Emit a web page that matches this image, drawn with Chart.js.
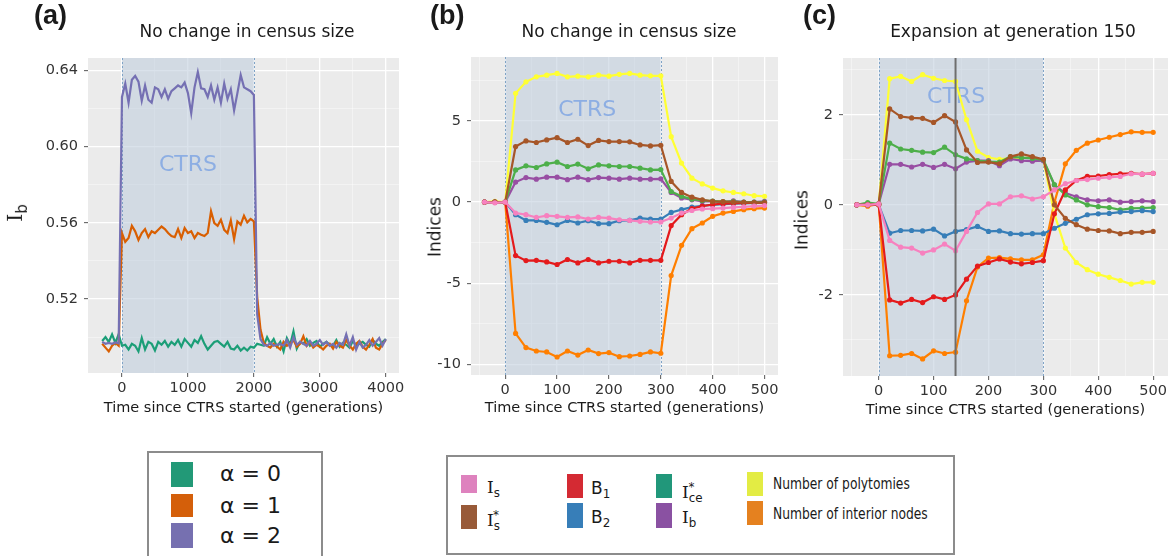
<!DOCTYPE html>
<html>
<head>
<meta charset="utf-8">
<script src="https://cdn.jsdelivr.net/npm/chart.js@4.4.0/dist/chart.umd.min.js"></script>
<style>
  body { margin: 0; background: #fff; font-family: 'DejaVu Sans', sans-serif; color: #1a1a1a; }
  #wrap { position: relative; width: 1169px; height: 556px; overflow: hidden; }
  canvas { position: absolute; top: 0; }
  .tag { position: absolute; font: bold 27px 'Liberation Sans', Arial, sans-serif; line-height: 27px; }
  .title { position: absolute; font-size: 17px; line-height: 17px; white-space: nowrap; transform: translateX(-50%); }
  .ylab { position: absolute; font-size: 17px; line-height: 17px; white-space: nowrap; transform: translate(-50%, -50%) rotate(-90deg); }
  .serif { font-family: 'DejaVu Serif', serif; }
  .box { position: absolute; border: 2px solid #8c8c8c; background: #fff; }
  .sw { position: absolute; }
  .lt { position: absolute; white-space: nowrap; }
  .lt sub, .lt sup { font-size: 70%; }
  .cond { transform: scaleX(0.82); transform-origin: left center; }
</style>
</head>
<body>
<div id="wrap">
  <canvas id="chartA" width="410" height="420" style="left:0px"></canvas>
  <canvas id="chartB" width="390" height="420" style="left:400px"></canvas>
  <canvas id="chartC" width="389" height="420" style="left:780px"></canvas>

  <div class="tag" style="left:34px; top:2px">(a)</div>
  <div class="tag" style="left:430px; top:2px">(b)</div>
  <div class="tag" style="left:803px; top:2px">(c)</div>

  <div class="title" style="left:247px; top:23px">No change in census size</div>
  <div class="title" style="left:629px; top:23px">No change in census size</div>
  <div class="title" style="left:1013px; top:23px">Expansion at generation 150</div>

  <div class="ylab" style="left:19px; top:213px; font-size:21px; line-height:21px"><span class="serif">I</span><sub style="font-size:15px">b</sub></div>
  <div class="ylab" style="left:435px; top:227px">Indices</div>
  <div class="ylab" style="left:802px; top:220px">Indices</div>

  <!-- legend for panel (a) -->
  <div class="box" style="left:147px; top:451px; width:172px; height:120px"></div>
  <div class="sw" style="left:171px; top:462px; width:22px; height:25px; background:#229977"></div>
  <div class="sw" style="left:171px; top:494px; width:22px; height:23px; background:#D45F0A"></div>
  <div class="sw" style="left:171px; top:523px; width:22px; height:25px; background:#7670B0"></div>
  <div class="lt" style="left:220px; top:463px; font-size:22px; line-height:22px">α = 0</div>
  <div class="lt" style="left:220px; top:495px; font-size:22px; line-height:22px">α = 1</div>
  <div class="lt" style="left:220px; top:525px; font-size:22px; line-height:22px">α = 2</div>

  <!-- legend for panels (b) and (c) -->
  <div class="box" style="left:446px; top:455px; width:505px; height:96px"></div>
  <div class="sw" style="left:461px; top:475px; width:16px; height:18px; background:#DE82BE"></div>
  <div class="sw" style="left:461px; top:505px; width:16px; height:24px; background:#985A38"></div>
  <div class="sw" style="left:567px; top:474px; width:16px; height:24px; background:#D42A33"></div>
  <div class="sw" style="left:567px; top:503px; width:16px; height:25px; background:#377EB8"></div>
  <div class="sw" style="left:656px; top:474px; width:16px; height:24px; background:#21977A"></div>
  <div class="sw" style="left:656px; top:503px; width:16px; height:25px; background:#8A51A2"></div>
  <div class="sw" style="left:747px; top:472px; width:16px; height:24px; background:#E3EC44"></div>
  <div class="sw" style="left:747px; top:501px; width:16px; height:24px; background:#E5811F"></div>
  <div class="lt" style="left:487px; top:479px; font-size:17px; line-height:17px"><span class="serif">I</span><sub>s</sub></div>
  <div class="lt" style="left:487px; top:507px; font-size:17px; line-height:17px"><span class="serif">I</span><sub>s</sub><sup style="margin-left:-7px">*</sup></div>
  <div class="lt" style="left:591px; top:480px; font-size:17px; line-height:17px">B<sub>1</sub></div>
  <div class="lt" style="left:591px; top:509px; font-size:17px; line-height:17px">B<sub>2</sub></div>
  <div class="lt" style="left:682px; top:479px; font-size:17px; line-height:17px"><span class="serif">I</span><sub>ce</sub><sup style="margin-left:-14px">*</sup></div>
  <div class="lt" style="left:682px; top:509px; font-size:17px; line-height:17px"><span class="serif">I</span><sub>b</sub></div>
  <div class="lt cond" style="left:773px; top:477px; font-size:15px; line-height:15px">Number of polytomies</div>
  <div class="lt cond" style="left:773px; top:507px; font-size:15px; line-height:15px">Number of interior nodes</div>
</div>

<script>
// panel (a): I_b through time for three alpha values, every 50 generations
var timeA = [];
for (var t = -300; t <= 4000; t += 50) timeA.push(t);

var alpha0 = [0.498, 0.500, 0.4975, 0.5015, 0.497, 0.5015,
  0.4955, 0.496, 0.4935, 0.4965, 0.4955, 0.4925, 0.4995, 0.4935, 0.4975, 0.4965,
  0.4930, 0.4975, 0.4960, 0.4980, 0.4950, 0.4975, 0.4960, 0.4985, 0.4950, 0.4990,
  0.4970, 0.4950, 0.4985, 0.4970, 0.5005, 0.4965, 0.4935, 0.4955, 0.4975, 0.4980,
  0.4965, 0.4950, 0.4975, 0.4940, 0.4935, 0.4955, 0.4930, 0.4945, 0.4930, 0.4950, 0.4945,
  0.4965, 0.4960, 0.4955, 0.5000, 0.4965, 0.4990, 0.4950, 0.4975, 0.4925, 0.4995,
  0.4960, 0.5030, 0.4940, 0.4975, 0.4965, 0.4990, 0.4955, 0.4970, 0.4980, 0.4950,
  0.4965, 0.4975, 0.4960, 0.4955, 0.4985, 0.4950, 0.4970, 0.4960, 0.4945, 0.4980,
  0.4955, 0.4965, 0.4975, 0.4960, 0.4950, 0.4985, 0.4965, 0.4955, 0.4975, 0.4990];

var alpha1 = [0.4965, 0.4945, 0.4925, 0.4955, 0.497, 0.4955,
  0.5546, 0.550, 0.552, 0.5584, 0.5555, 0.551, 0.5546, 0.5567, 0.5525, 0.5555,
  0.5546, 0.5563, 0.558, 0.5567, 0.5546, 0.553, 0.5525, 0.5567, 0.552, 0.5572,
  0.5546, 0.5555, 0.552, 0.5546, 0.5537, 0.553, 0.5546, 0.566, 0.5598, 0.5584,
  0.5616, 0.5563, 0.5546, 0.5612, 0.5514, 0.5607, 0.559, 0.5637, 0.5602, 0.562, 0.5607,
  0.521, 0.504, 0.497, 0.4955, 0.4945, 0.4965, 0.4950, 0.4935, 0.4975, 0.4955,
  0.4965, 0.4985, 0.4950, 0.4965, 0.5005, 0.4955, 0.4975, 0.4945, 0.4960, 0.4950,
  0.4935, 0.4955, 0.4965, 0.4940, 0.4975, 0.4955, 0.4945, 0.4985, 0.4955, 0.4935,
  0.4965, 0.4980, 0.4950, 0.4935, 0.4960, 0.4990, 0.4945, 0.4935, 0.4965, 0.4985];

var alpha2 = [0.4975, 0.4965, 0.497, 0.4965, 0.4972, 0.4968,
  0.626, 0.633, 0.623, 0.635, 0.637, 0.634, 0.624, 0.632, 0.6245, 0.623,
  0.631, 0.630, 0.626, 0.630, 0.625, 0.629, 0.6305, 0.632, 0.631, 0.6335,
  0.628, 0.6175, 0.631, 0.639, 0.6305, 0.630, 0.626, 0.632, 0.6245, 0.631,
  0.623, 0.633, 0.625, 0.630, 0.619, 0.628, 0.6375, 0.631, 0.630, 0.629, 0.627,
  0.512, 0.499, 0.496, 0.4955, 0.497, 0.4955, 0.496, 0.4965, 0.4955, 0.4985,
  0.4945, 0.500, 0.496, 0.4975, 0.4965, 0.4955, 0.498, 0.4955, 0.4965, 0.4985,
  0.496, 0.4975, 0.4955, 0.4965, 0.4945, 0.497, 0.496, 0.5015, 0.4955, 0.500,
  0.4935, 0.4975, 0.4945, 0.496, 0.4985, 0.4955, 0.4975, 0.4995, 0.4955, 0.499];

// panels (b) and (c): tree indices every 20 generations
var generations = [-40, -20, 0, 20, 40, 60, 80, 100, 120, 140, 160, 180, 200, 220,
  240, 260, 280, 300, 320, 340, 360, 380, 400, 420, 440, 460, 480, 500];

var isB     = [0, -0.05, 0, -0.68, -0.78, -0.95, -0.84, -0.88, -0.95, -0.92, -1.05, -0.95, -0.99, -1.09, -1.13, -1.19, -1.23, -1.23, -0.99, -0.68, -0.52, -0.43, -0.41, -0.37, -0.33, -0.30, -0.25, -0.22];
var isStarB = [0, 0, 0, 3.42, 3.77, 3.67, 3.83, 3.97, 3.67, 3.87, 3.48, 3.80, 3.73, 3.73, 3.71, 3.52, 3.46, 3.50, 1.27, 0.59, 0.30, 0.14, 0.04, 0.02, 0.0, -0.02, -0.04, -0.05];
var b1B     = [0, 0, 0, -3.30, -3.61, -3.59, -3.69, -3.85, -3.54, -3.75, -3.54, -3.75, -3.65, -3.65, -3.75, -3.59, -3.59, -3.59, -1.45, -0.78, -0.40, -0.25, -0.15, -0.10, -0.08, -0.06, -0.05, -0.05];
var b2B     = [0, 0, 0, -0.78, -1.13, -1.13, -1.25, -1.40, -1.13, -1.29, -1.15, -1.33, -1.33, -1.15, -1.13, -0.99, -1.05, -1.05, -0.64, -0.47, -0.31, -0.23, -0.17, -0.13, -0.10, -0.08, -0.06, -0.05];
var iceB    = [0, 0, 0, 1.98, 2.23, 2.13, 2.35, 2.46, 2.19, 2.34, 2.05, 2.29, 2.23, 2.19, 2.19, 2.09, 1.98, 2.00, 0.65, 0.35, 0.18, 0.10, 0.06, 0.03, 0.02, 0, 0, 0];
var ibB     = [0, 0, 0, 1.23, 1.51, 1.41, 1.53, 1.53, 1.38, 1.53, 1.38, 1.51, 1.47, 1.41, 1.47, 1.41, 1.41, 1.43, 0.59, 0.25, 0.14, 0.04, 0.04, 0, 0.08, 0, 0, 0.04];
var polyB   = [0, 0.05, 0, 6.70, 7.41, 7.72, 7.82, 7.93, 7.72, 7.76, 7.72, 7.82, 7.76, 7.87, 7.93, 7.82, 7.78, 7.78, 4.03, 2.40, 1.47, 1.12, 0.86, 0.69, 0.59, 0.51, 0.39, 0.35];
var nodesB  = [0, 0, 0, -8.10, -8.97, -9.18, -9.24, -9.55, -9.18, -9.43, -9.12, -9.34, -9.28, -9.53, -9.49, -9.39, -9.24, -9.32, -4.53, -2.67, -1.64, -1.29, -0.88, -0.68, -0.58, -0.47, -0.41, -0.37];

var isC     = [0, 0, 0.02, -0.79, -0.94, -0.96, -1.07, -1.00, -0.87, -1.02, -0.59, -0.17, 0.02, 0.02, 0.18, 0.20, 0.13, 0.18, 0.33, 0.47, 0.54, 0.56, 0.59, 0.61, 0.63, 0.69, 0.68, 0.70];
var isStarC = [0, 0, 0.02, 2.13, 1.96, 1.93, 1.92, 1.83, 1.98, 1.84, 1.22, 0.94, 0.95, 0.91, 1.07, 1.13, 1.07, 1.01, 0.0, -0.30, -0.44, -0.54, -0.57, -0.58, -0.64, -0.61, -0.61, -0.59];
var b1C     = [0, 0, 0, -2.11, -2.18, -2.10, -2.17, -2.04, -2.10, -2.00, -1.65, -1.36, -1.28, -1.20, -1.27, -1.31, -1.28, -1.24, -0.20, 0.33, 0.54, 0.63, 0.64, 0.67, 0.69, 0.70, 0.68, 0.70];
var b2C     = [0, 0, 0, -0.63, -0.57, -0.57, -0.58, -0.54, -0.69, -0.59, -0.55, -0.48, -0.59, -0.58, -0.64, -0.65, -0.64, -0.64, -0.52, -0.41, -0.32, -0.22, -0.20, -0.19, -0.16, -0.15, -0.13, -0.15];
var iceC    = [0, 0.05, 0.02, 1.37, 1.24, 1.21, 1.17, 1.16, 1.28, 1.11, 1.02, 0.98, 0.96, 0.95, 1.07, 1.05, 1.03, 1.00, 0.45, 0.22, 0.11, 0.0, -0.04, -0.06, -0.11, -0.08, -0.07, -0.06];
var ibC     = [0, 0, 0.02, 0.90, 0.90, 0.84, 0.90, 0.83, 0.90, 0.80, 0.95, 0.98, 0.98, 0.87, 1.02, 0.98, 0.97, 0.98, 0.44, 0.26, 0.18, 0.11, 0.09, 0.11, 0.06, 0.07, 0.09, 0.07];
var polyC   = [0, 0, 0, 2.80, 2.85, 2.74, 2.89, 2.81, 2.76, 2.74, 1.89, 1.19, 1.05, 1.01, 1.04, 1.04, 1.05, 1.00, -0.20, -0.96, -1.28, -1.44, -1.54, -1.61, -1.68, -1.76, -1.72, -1.72];
var nodesC  = [0, -0.03, 0.02, -3.35, -3.34, -3.30, -3.42, -3.24, -3.30, -3.27, -2.13, -1.38, -1.18, -1.17, -1.20, -1.22, -1.22, -1.11, 0.05, 0.91, 1.21, 1.37, 1.44, 1.50, 1.56, 1.62, 1.61, 1.61];

// axis breaks
var xMajorA = [0, 1000, 2000, 3000, 4000];
var xMinorA = [500, 1500, 2500, 3500];
var yMajorA = [0.52, 0.56, 0.60, 0.64];
var yMinorA = [0.50, 0.54, 0.58, 0.62];
var xMajorBC = [0, 100, 200, 300, 400, 500];
var xMinorBC = [-50, 50, 150, 250, 350, 450];
var yMajorB = [-10, -5, 0, 5];
var yMinorB = [-7.5, -2.5, 2.5, 7.5];
var yMajorC = [-2, 0, 2];
var yMinorC = [-3, -1, 1, 3];

Chart.defaults.font.family = "'DejaVu Sans', sans-serif";
Chart.defaults.color = '#333';

var ctrsPlugin = {
    id: 'ctrs',
    beforeDraw: function(chart) {
        var a = chart.chartArea, ctx = chart.ctx;
        ctx.save();
        ctx.fillStyle = '#EBEBEB';
        ctx.fillRect(a.left, a.top, a.right - a.left, a.bottom - a.top);
        ctx.restore();
    },
    beforeDatasetsDraw: function(chart, args, o) {
        var a = chart.chartArea, ctx = chart.ctx;
        var xs = chart.scales.x, ys = chart.scales.y;
        var x0 = xs.getPixelForValue(o.from), x1 = xs.getPixelForValue(o.to);
        ctx.save();
        ctx.fillStyle = 'rgba(195, 208, 222, 0.62)';
        ctx.fillRect(x0, a.top, x1 - x0, a.bottom - a.top);
        ctx.strokeStyle = '#7FA3C6';
        ctx.lineWidth = 1;
        ctx.setLineDash([2, 2]);
        [x0, x1].forEach(function(x) {
            ctx.beginPath();
            ctx.moveTo(Math.round(x) + 0.5, a.top);
            ctx.lineTo(Math.round(x) + 0.5, a.bottom);
            ctx.stroke();
        });
        ctx.setLineDash([]);
        ctx.fillStyle = '#8DAEE3';
        ctx.font = "22px 'DejaVu Sans'";
        ctx.textAlign = 'center';
        ctx.textBaseline = 'middle';
        ctx.fillText('CTRS', xs.getPixelForValue(o.labelAt[0]), ys.getPixelForValue(o.labelAt[1]));
        ctx.restore();
    },
    afterDatasetsDraw: function(chart, args, o) {
        if (o.marker === undefined) return;
        var a = chart.chartArea, ctx = chart.ctx;
        var x = chart.scales.x.getPixelForValue(o.marker);
        ctx.save();
        ctx.strokeStyle = '#6E6E6E';
        ctx.lineWidth = 2;
        ctx.beginPath();
        ctx.moveTo(x, a.top);
        ctx.lineTo(x, a.bottom);
        ctx.stroke();
        ctx.restore();
    }
};

function isMajor(list, c) {
    return c && c.tick && list.indexOf(c.tick.value) >= 0;
}

function axis(opts) {
    var all = opts.major.concat(opts.minor);
    var ax = {
        type: 'linear',
        min: opts.min,
        max: opts.max,
        border: { display: false },
        afterBuildTicks: function(s) {
            s.ticks = all.map(function(v) { return { value: v }; });
        },
        grid: {
            color: function(c) { return isMajor(opts.major, c) ? '#FFFFFF' : 'rgba(255,255,255,0.6)'; },
            lineWidth: function(c) { return isMajor(opts.major, c) ? 1.3 : 0.7; },
            tickColor: function(c) { return isMajor(opts.major, c) ? '#555' : 'rgba(0,0,0,0)'; },
            tickLength: 4,
            tickWidth: 1
        },
        ticks: {
            autoSkip: false,
            maxRotation: 0,
            padding: opts.pad,
            color: '#333',
            font: { size: 14.5 },
            callback: function(v) {
                return opts.major.indexOf(v) >= 0 ? opts.fmt(v) : '';
            }
        },
        afterFit: opts.fit
    };
    if (opts.title) {
        ax.title = {
            display: true,
            text: opts.title,
            color: '#1a1a1a',
            font: { size: 14.5 },
            padding: { top: 0, bottom: opts.titlePad }
        };
    }
    return ax;
}

function lineSet(label, data, xs, color, pts) {
    return {
        label: label,
        data: data.map(function(v, i) { return { x: xs[i], y: v }; }),
        borderColor: color,
        backgroundColor: color,
        borderWidth: 2.2,
        pointRadius: pts ? 2.6 : 0,
        pointBorderWidth: 0,
        tension: 0
    };
}

function baseOptions(pad, scales, band) {
    return {
        responsive: false,
        animation: false,
        devicePixelRatio: 1,
        layout: { padding: pad, autoPadding: false },
        plugins: { legend: { display: false }, tooltip: { enabled: false }, ctrs: band },
        scales: scales
    };
}

function num(v) { return String(v); }

new Chart(document.getElementById('chartA'), {
    type: 'line',
    data: {
        datasets: [
            lineSet('α = 2', alpha2, timeA, '#7570B3', false),
            lineSet('α = 1', alpha1, timeA, '#D95F02', false),
            lineSet('α = 0', alpha0, timeA, '#1B9E77', false)
        ]
    },
    options: baseOptions({ top: 58, right: 11, left: 0, bottom: 0 }, {
        x: axis({ min: -515, max: 4200, major: xMajorA, minor: xMinorA, fmt: num, pad: 3,
            title: 'Time since CTRS started (generations)', titlePad: 3,
            fit: function(s) { s.height = 47; } }),
        y: axis({ min: 0.4812, max: 0.6464, major: yMajorA, minor: yMinorA, pad: 6,
            fmt: function(v) { return v.toFixed(2); },
            fit: function(s) { s.width = 88; } })
    }, { from: 0, to: 2000, labelAt: [1000, 0.590] }),
    plugins: [ctrsPlugin]
});

function indexSets(xs, s) {
    return [
        lineSet('Is', s[0], xs, '#F781BF', true),
        lineSet('Is*', s[1], xs, '#A65628', true),
        lineSet('B1', s[2], xs, '#E41A1C', true),
        lineSet('B2', s[3], xs, '#377EB8', true),
        lineSet('Ice*', s[4], xs, '#4DAF4A', true),
        lineSet('Ib', s[5], xs, '#984EA3', true),
        lineSet('Number of polytomies', s[6], xs, '#FFFF33', true),
        lineSet('Number of interior nodes', s[7], xs, '#FF7F00', true)
    ];
}

new Chart(document.getElementById('chartB'), {
    type: 'line',
    data: { datasets: indexSets(generations, [isB, isStarB, b1B, b2B, iceB, ibB, polyB, nodesB]) },
    options: baseOptions({ top: 57, right: 12, left: 0, bottom: 0 }, {
        x: axis({ min: -66, max: 526, major: xMajorBC, minor: xMinorBC, fmt: num, pad: 3,
            title: 'Time since CTRS started (generations)', titlePad: 3,
            fit: function(s) { s.height = 45; } }),
        y: axis({ min: -10.66, max: 8.94, major: yMajorB, minor: yMinorB, fmt: num, pad: 6,
            fit: function(s) { s.width = 71; } })
    }, { from: 0, to: 300, labelAt: [158, 5.65] }),
    plugins: [ctrsPlugin]
});

new Chart(document.getElementById('chartC'), {
    type: 'line',
    data: { datasets: indexSets(generations, [isC, isStarC, b1C, b2C, iceC, ibC, polyC, nodesC]) },
    options: baseOptions({ top: 58, right: 1, left: 0, bottom: 0 }, {
        x: axis({ min: -65, max: 527, major: xMajorBC, minor: xMinorBC, fmt: num, pad: 3,
            title: 'Time since CTRS started (generations)', titlePad: 1,
            fit: function(s) { s.height = 44; } }),
        y: axis({ min: -3.8, max: 3.26, major: yMajorC, minor: yMinorC, fmt: num, pad: 6,
            fit: function(s) { s.width = 63; } })
    }, { from: 0, to: 300, labelAt: [141, 2.38], marker: 140 }),
    plugins: [ctrsPlugin]
});
</script>
</body>
</html>
